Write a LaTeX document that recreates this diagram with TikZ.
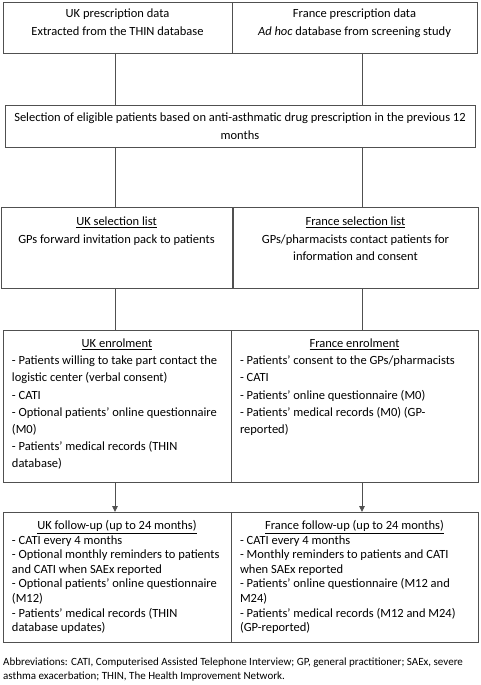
\documentclass[tikz,border=0pt]{standalone}
\usepackage{fontspec}
\setmainfont{Carlito}
\usetikzlibrary{arrows.meta}
\definecolor{linec}{RGB}{80,80,80}
\newcommand{\fs}{12.5}
% left-aligned box text: width, height, baselineskip, top pad, body
\newcommand{\leftpar}[5]{\parbox[c][#2][t]{#1}{\fontsize{\fs}{#3}\selectfont\raggedright\leftskip=9pt\rightskip=-40pt plus 1fil\relax\vspace*{#4}\rule{0pt}{9.5pt}#5}}
% centred box text
\newcommand{\cenpar}[5]{\parbox[c][#2][t]{#1}{\fontsize{\fs}{#3}\selectfont\leftskip=-30pt plus 1fil\rightskip=-30pt plus 1fil\parfillskip=0pt\let\\=\par\relax\vspace*{#4}\rule{0pt}{9.5pt}#5}}
\newcommand{\hd}[1]{\makebox[\dimexpr\hsize-18pt\relax][c]{\underline{#1}}}
\begin{document}
\begin{tikzpicture}[x=1pt,y=1pt,
  box/.style={draw=linec,line width=0.9pt,anchor=north west,inner sep=0pt,outer sep=0pt,text=black},
  conn/.style={draw=linec,line width=0.9pt},
  arr/.style={conn,-{Triangle[width=5.5pt,length=6pt]}}]
\useasboundingbox (0,0) rectangle (481,-685);
\coordinate (colL) at (115,0);
\coordinate (colR) at (362,0);
% row 1
\node[box] (ukdata) at (3,-2) {\cenpar{229pt}{51pt}{18pt}{6pt}{UK prescription data\\Extracted from the THIN database}};
\node[box] (frdata) at (232,-2) {\cenpar{245pt}{51pt}{18pt}{6pt}{France prescription data\\\textit{Ad hoc} database from screening study}};
% row 2
\node[box] (sel) at (5,-105) {\cenpar{470pt}{42pt}{18pt}{7pt}{Selection of eligible patients based on anti-asthmatic drug prescription in the previous 12\\months}};
% row 3
\node[box] (uksel) at (1,-207) {\cenpar{231pt}{81pt}{17.5pt}{9pt}{\underline{UK selection list}\\GPs forward invitation pack to patients}};
\node[box] (frsel) at (233,-207) {\cenpar{245pt}{81pt}{17.5pt}{9pt}{\underline{France selection list}\\GPs/pharmacists contact patients for\\information and consent}};
% row 4
\node[box] (ukenr) at (3,-330) {\leftpar{228pt}{152pt}{17.2pt}{8pt}{\hd{UK enrolment}\\
- Patients willing to take part contact the\\
logistic center (verbal consent)\\
- CATI\\
- Optional patients’ online questionnaire\\
(M0)\\
- Patients’ medical records (THIN\\
database)}};
\node[box] (frenr) at (231,-330) {\leftpar{247pt}{152pt}{17.2pt}{8pt}{\hd{France enrolment}\\
- Patients’ consent to the GPs/pharmacists\\
- CATI\\
- Patients’ online questionnaire (M0)\\
- Patients’ medical records (M0) (GP-\\
reported)}};
% row 5
\node[box] (ukfu) at (3,-512) {\leftpar{228pt}{130pt}{14.6pt}{8pt}{\hd{UK follow-up (up to 24 months)}\\
- CATI every 4 months\\
- Optional monthly reminders to patients\\
and CATI when SAEx reported\\
- Optional patients’ online questionnaire\\
(M12)\\
- Patients’ medical records (THIN\\
database updates)}};
\node[box] (frfu) at (231,-512) {\leftpar{247pt}{130pt}{14.6pt}{8pt}{\hd{France follow-up (up to 24 months)}\\
- CATI every 4 months\\
- Monthly reminders to patients and CATI\\
when SAEx reported\\
- Patients’ online questionnaire (M12 and\\
M24)\\
- Patients’ medical records (M12 and M24)\\
(GP-reported)}};
% footnote
\node[anchor=north west,inner sep=0pt,align=left,font=\fontsize{11}{14}\selectfont] (abbr) at (3,-658)
{Abbreviations: CATI, Computerised Assisted Telephone Interview; GP, general practitioner; SAEx, severe\\asthma exacerbation; THIN, The Health Improvement Network.};
% connectors
\draw[conn] (ukdata.south -| colL) -- (sel.north -| colL);
\draw[conn] (frdata.south -| colR) -- (sel.north -| colR);
\draw[conn] (sel.south -| colL) -- (uksel.north -| colL);
\draw[conn] (sel.south -| colR) -- (frsel.north -| colR);
\draw[conn] (uksel.south -| colL) -- (ukenr.north -| colL);
\draw[conn] (frsel.south -| colR) -- (frenr.north -| colR);
\draw[arr] (ukenr.south -| colL) -- (ukfu.north -| colL);
\draw[arr] (frenr.south -| colR) -- (frfu.north -| colR);
\end{tikzpicture}
\end{document}
